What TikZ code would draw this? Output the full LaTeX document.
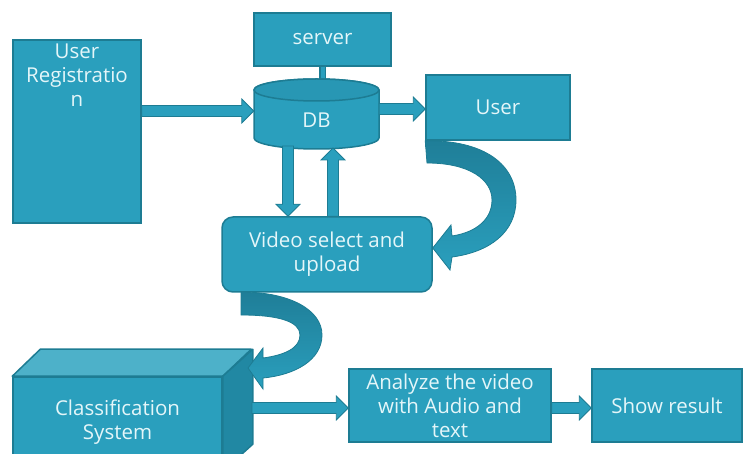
\documentclass[tikz,border=0pt]{standalone}
\usepackage{fontspec}
\setmainfont{Open Sans}
\usetikzlibrary{calc}
\definecolor{boxfill}{HTML}{2A9FBD}
\definecolor{boxedge}{HTML}{1D7C93}
\definecolor{txt}{HTML}{E4F6F9}
\definecolor{topface}{HTML}{4DB1C9}
\definecolor{sideface}{HTML}{2188A3}
\definecolor{darkband}{HTML}{1F7E98}
\begin{document}
\begin{tikzpicture}[x=1pt,y=-1pt,
  box/.style={draw=boxedge, line width=1.5pt, fill=boxfill, text=txt,
    font=\fontsize{20.5}{24}\selectfont, align=center, inner sep=0pt},
  lbl/.style={text=txt, font=\fontsize{20.5}{24}\selectfont, align=center, inner sep=0pt},
  blk/.style={draw=boxedge, line width=0.8pt, fill=boxfill, line join=miter,
    to path={($(\tikztostart)!5.5pt!90:(\tikztotarget)$)
      -- ($(\tikztotarget)!12pt!(\tikztostart)!5.5pt!90:(\tikztotarget)$)
      -- ($(\tikztotarget)!12pt!(\tikztostart)!12pt!90:(\tikztotarget)$)
      -- (\tikztotarget)
      -- ($(\tikztotarget)!12pt!(\tikztostart)!12pt!-90:(\tikztotarget)$)
      -- ($(\tikztotarget)!12pt!(\tikztostart)!5.5pt!-90:(\tikztotarget)$)
      -- ($(\tikztostart)!5.5pt!-90:(\tikztotarget)$) -- cycle}},
  band/.style={draw=boxedge, line width=0.8pt, top color=darkband, bottom color=boxfill}]
\useasboundingbox (0,0) rectangle (745,454);
\clip (0,0) rectangle (745,454);

% User Registration
\node[box, minimum width=128pt, minimum height=183pt] (urg) at (77,131.5)
  {\parbox[c][183pt][t]{128pt}{\centering\vspace*{4pt}User\\Registratio\\n}};

% server
\node[box, minimum width=137pt, minimum height=53pt] (server) at (322.5,39.5) {server};

% DB cylinder
\node[inner sep=0pt, minimum width=125pt, minimum height=70pt] (db) at (316.5,114) {};
\draw[boxedge, line width=6.5pt] (server.south) -- (server.south |- db.north);
\draw[boxfill, line width=4pt] (server.south) -- (server.south |- db.north);
\draw[draw=boxedge, line width=1.5pt, fill=boxfill]
  (254,90) -- (254,138) arc[start angle=180, end angle=360, x radius=62.5pt, y radius=11pt]
  -- (379,90) arc[start angle=0, end angle=180, x radius=62.5pt, y radius=11pt] -- cycle;
\draw[draw=boxedge, line width=1.5pt, fill=boxfill!95!black] (316.5,90) ellipse[x radius=62.5pt, y radius=11pt];
\node[lbl] (dbt) at (316.5,120) {DB};

% User
\node[box, minimum width=144pt, minimum height=65pt] (user) at (498,107.5) {User};

% Video select
\node[box, rounded corners=11pt, minimum width=210pt, minimum height=75pt] (vid) at (327,254.5)
  {Video select and\\upload};

% Classification system (3D block)
\node[box, minimum width=209pt, minimum height=90pt] (cls) at (117.5,422) {Classification\\System};
\draw[draw=boxedge, line width=1.5pt, fill=topface, line join=round]
  (cls.north west) -- ++(28,-27) -- ++(211,0) -- (cls.north east) -- cycle;
\draw[draw=boxedge, line width=1.5pt, fill=sideface, line join=round]
  (cls.north east) -- ++(30,-27) -- ++(0,95) -- ++(-30,27) -- cycle;

% Analyze / Show result
\node[box, minimum width=202pt, minimum height=73pt] (ana) at (450,405.5)
  {Analyze the video\\with Audio and\\text};
\node[box, minimum width=150pt, minimum height=73pt] (res) at (667,405.5) {Show result};

% connector end points
\coordinate (urgout) at (urg.east |- 0,111);
\coordinate (dbin) at (db.west |- 0,111);
\coordinate (dbout) at (db.east |- 0,109);
\coordinate (userin) at (user.west |- 0,109);
\coordinate (dbdown) at (288,146);
\coordinate (vidin) at (vid.north -| 288,0);
\coordinate (vidout) at (vid.north -| 333,0);
\coordinate (dbup) at (333,148);
\coordinate (clsout) at (252,408);
\coordinate (anain) at (ana.west |- 0,408);
\coordinate (anaout) at (ana.east |- 0,408);
\coordinate (resin) at (res.west |- 0,408);

\draw[blk] (urgout) to (dbin);
\draw[blk] (dbout) to (userin);
\draw[blk] (dbdown) to (vidin);
\draw[blk] (vidout) to (dbup);
\draw[blk] (clsout) to (anain);
\draw[blk] (anaout) to (resin);

% curved arrow User -> Video
\draw[band, line join=miter]
  (user.south west) .. controls (485,140) and (516,165) .. (516,200)
  .. controls (516,232) and (490,252) .. (452,257)
  -- (450,270) -- (vid.east |- 0,248) -- (451,225) -- (452,236)
  .. controls (478,232) and (492,218) .. (492,200)
  .. controls (492,180) and (470,163) .. (427,163) -- cycle;

% curved arrow Video -> Classification
\draw[band, line join=miter]
  (241,292) .. controls (290,292) and (322,310) .. (322,335)
  .. controls (322,360) and (295,375) .. (263,378)
  -- (263,389) -- (248,368) -- (263,348) -- (263,358)
  .. controls (285,355) and (300,348) .. (300,335)
  .. controls (300,322) and (280,315) .. (241,315) -- cycle;
\end{tikzpicture}
\end{document}
